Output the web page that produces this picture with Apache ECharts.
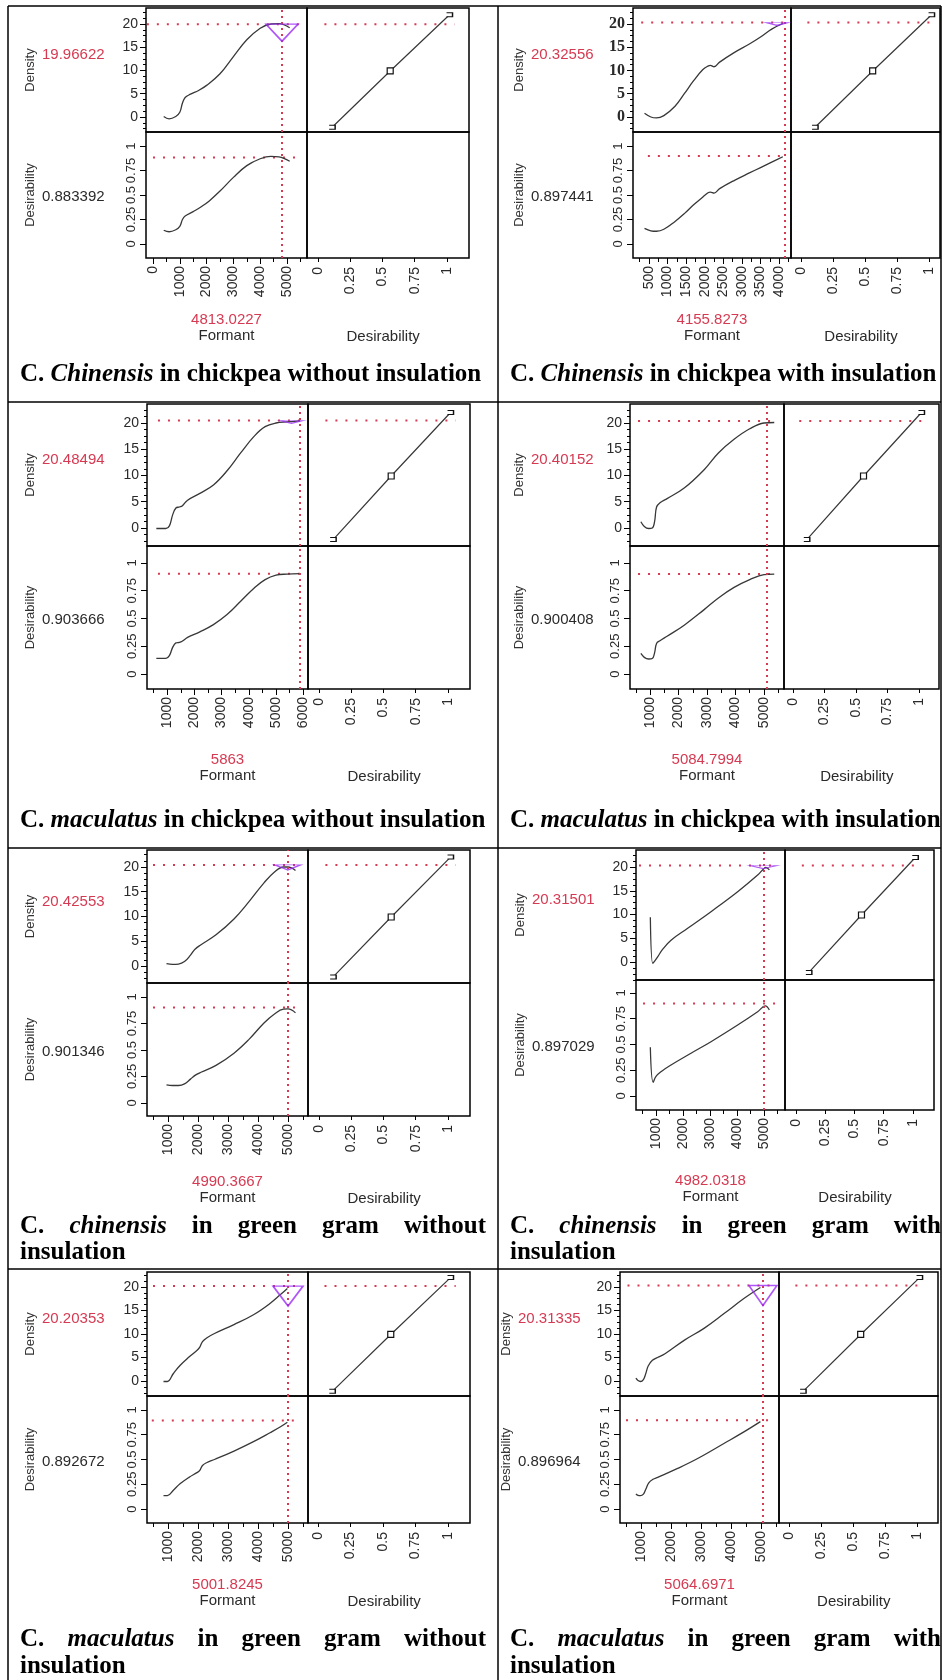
<!DOCTYPE html>
<html>
<head>
<meta charset="utf-8">
<script src="https://cdn.jsdelivr.net/npm/echarts@6.0.0/dist/echarts.min.js"></script>
<style>
  html, body { margin: 0; padding: 0; background: #fff; }
  #main { width: 942px; height: 1680px; }
</style>
</head>
<body>
<div id="main"></div>
<script>
// 数据：每个面板的最优点
var optFormant = [4813.0227, 4155.8273, 5863, 5084.7994, 4990.3667, 4982.0318, 5001.8245, 5064.6971];
var optDensity = [19.96622, 20.32556, 20.48494, 20.40152, 20.42553, 20.31501, 20.20353, 20.31335];
var optDesir = [0.883392, 0.897441, 0.903666, 0.900408, 0.901346, 0.897029, 0.892672, 0.896964];

// 刻度
var densityTicks = [0, 5, 10, 15, 20];
var desirTicks = [0, 0.25, 0.5, 0.75, 1];
var formantTicks1 = [0, 1000, 2000, 3000, 4000, 5000];
var formantTicks2 = [500, 1000, 1500, 2000, 2500, 3000, 3500, 4000];
var formantTicks3 = [1000, 2000, 3000, 4000, 5000, 6000];
var formantTicks = [1000, 2000, 3000, 4000, 5000];

// 合意函数 (desirability, density)
var desirFn = [[0.11, -2.2], [0.56, 9.9], [1.02, 22]];

// Density vs Formant
var density1 = [[400,0.1],[600,-0.4],[850,0.1],[1000,1.0],[1100,3.0],[1200,4.2],[1400,4.9],[1700,5.7],[2000,6.8],[2500,9.3],[3000,13.0],[3500,16.6],[4000,19.1],[4400,20.0],[4700,20.1],[5100,19.2]];
var density2 = [[380,0.8],[550,0.0],[700,-0.2],[900,0.3],[1200,2.3],[1450,5.0],[1700,7.8],[1950,10.2],[2100,11.0],[2150,11.1],[2250,10.8],[2400,11.8],[2800,13.9],[3200,15.7],[3500,17.2],[3800,18.9],[4100,20.1]];
var density3 = [[600,-0.1],[950,-0.1],[1080,0.4],[1200,2.5],[1320,3.8],[1450,4.0],[1550,4.2],[1750,5.3],[2200,6.6],[2700,8.2],[3200,10.9],[3700,14.3],[4200,17.5],[4600,19.3],[5000,20.0],[5400,20.2],[5880,20.4]];
var density4 = [[680,1.2],[800,0.3],[950,-0.1],[1080,0.0],[1160,1.2],[1230,4.0],[1350,4.8],[1600,5.6],[2200,7.6],[2900,11.1],[3400,14.3],[3950,16.9],[4500,18.9],[5000,20.0],[5360,20.1]];
var density5 = [[950,0.5],[1150,0.35],[1350,0.4],[1550,0.9],[1750,2.2],[1900,3.4],[2100,4.3],[2600,6.3],[3200,9.5],[3700,13.0],[4200,16.8],[4550,19.0],[4850,20.0],[5000,20.0],[5250,19.3]];
var density6 = [[790,9.4],[877,-0.3],[950,0.2],[1062,1.1],[1250,2.7],[1556,4.6],[2173,7.1],[3037,10.6],[4025,14.8],[4765,18.3],[5000,19.7],[5074,19.9],[5198,19.4]];
var density7 = [[850,-0.1],[980,-0.1],[1180,1.6],[1400,3.3],[1700,5.1],[1980,6.6],[2060,7.2],[2150,8.4],[2300,9.2],[2550,10.1],[3200,12.0],[3850,14.1],[4400,16.5],[4750,18.4],[4980,19.7]];
var density8 = [[830,0.6],[900,0.1],[980,-0.1],[1080,0.3],[1160,1.6],[1240,3.2],[1380,4.4],[1550,5.0],[1800,5.8],[2450,8.7],[3100,11.2],[3780,14.4],[4440,17.6],[4980,19.9]];

// Desirability vs Formant
var desir1 = [[400,0.14],[600,0.125],[850,0.145],[1000,0.18],[1100,0.25],[1200,0.285],[1500,0.33],[1800,0.38],[2100,0.44],[2500,0.54],[3000,0.68],[3500,0.80],[4000,0.87],[4400,0.895],[4700,0.89],[5100,0.845]];
var desir2 = [[380,0.16],[550,0.135],[700,0.13],[900,0.15],[1200,0.23],[1450,0.31],[1700,0.40],[1950,0.48],[2100,0.525],[2150,0.53],[2250,0.52],[2400,0.565],[2800,0.65],[3200,0.725],[3500,0.78],[3800,0.835],[4100,0.89]];
var desir3 = [[600,0.14],[950,0.14],[1080,0.165],[1200,0.24],[1320,0.28],[1450,0.285],[1550,0.295],[1750,0.33],[2200,0.38],[2700,0.445],[3200,0.535],[3700,0.655],[4200,0.775],[4600,0.85],[5000,0.89],[5400,0.9],[5880,0.904]];
var desir4 = [[680,0.185],[800,0.15],[950,0.135],[1080,0.14],[1160,0.19],[1230,0.275],[1350,0.3],[1600,0.34],[2200,0.44],[2900,0.58],[3400,0.685],[3950,0.78],[4500,0.85],[5000,0.895],[5360,0.9]];
var desir5 = [[950,0.17],[1150,0.165],[1350,0.165],[1550,0.18],[1750,0.225],[1900,0.26],[2100,0.29],[2600,0.355],[3200,0.47],[3700,0.6],[4200,0.755],[4550,0.84],[4850,0.885],[5000,0.887],[5250,0.85]];
var desir6 = [[790,0.473],[895,0.133],[1000,0.19],[1185,0.236],[1556,0.301],[2296,0.415],[3037,0.527],[4025,0.689],[4765,0.818],[5049,0.874],[5198,0.835]];
var desir7 = [[850,0.135],[980,0.135],[1180,0.19],[1400,0.255],[1700,0.32],[1980,0.37],[2060,0.39],[2150,0.44],[2300,0.47],[2550,0.5],[3200,0.585],[3850,0.68],[4400,0.77],[4750,0.83],[4980,0.876]];
var desir8 = [[830,0.152],[900,0.138],[980,0.135],[1080,0.15],[1160,0.2],[1260,0.265],[1400,0.3],[1556,0.32],[2222,0.41],[2889,0.51],[3778,0.664],[4444,0.781],[4980,0.882]];

// 标题
var captionSpecies = ['Chinensis', 'Chinensis', 'maculatus', 'maculatus', 'chinensis', 'chinensis', 'maculatus', 'maculatus'];
var captionRest = ['in chickpea without insulation', 'in chickpea with insulation',
  'in chickpea without insulation', 'in chickpea with insulation',
  'in green gram without insulation', 'in green gram with insulation',
  'in green gram without insulation', 'in green gram with insulation'];

var densityCurves = [density1, density2, density3, density4, density5, density6, density7, density8];
var desirCurves = [desir1, desir2, desir3, desir4, desir5, desir6, desir7, desir8];
var formantTickSets = [formantTicks1, formantTicks2, formantTicks3, formantTicks, formantTicks, formantTicks, formantTicks, formantTicks];

// 版面（像素位置和轴范围）
var layout = [
  {xs:[146,307,469], ys:[8,132,258], den:[-3.23,23.44], des:[-0.143,1.143], fx:[-261,5746], dx:[-0.085,1.171], step:500, lab:30, fv:320, h:[-230,5450], h2:[0,5370], tri:[32,17], triDx:0, cap:[375]},
  {xs:[633,791,940], ys:[8,132,258], den:[-3.23,23.44], des:[-0.143,1.143], fx:[70,4319], dx:[-0.078,1.086], step:250, lab:519, fv:320, h:[290,4160], h2:[470,4110], tri:[22,3], triDx:-8, serif:true, cap:[375]},
  {xs:[147,308,470], ys:[404,546,689], den:[-3.43,23.62], des:[-0.135,1.153], fx:[257,6176], dx:[-0.085,1.171], step:500, lab:30, fv:760, h:[660,5880], h2:[660,5880], tri:[23,3], triDx:-8, cap:[821]},
  {xs:[630,784,939], ys:[404,546,689], den:[-3.43,23.62], des:[-0.135,1.153], fx:[298,5702], dx:[-0.071,1.159], step:500, lab:519, fv:760, h:[580,5350], h2:[580,5350], tri:null, cap:[821]},
  {xs:[147,308,470], ys:[850,983,1116], den:[-3.43,23.43], des:[-0.123,1.132], fx:[300,5667], dx:[-0.085,1.171], step:500, lab:30, fv:1182, h:[500,5400], h2:[500,5330], tri:[26,5], triDx:0, cap:[1227,1253]},
  {xs:[636,785,934], ys:[850,980,1110], den:[-3.79,23.58], des:[-0.136,1.126], fx:[259,5778], dx:[-0.094,1.18], step:500, lab:520, fv:1181, h:[370,5480], h2:[520,5550], tri:[27,3], triDx:0, cap:[1227,1253]},
  {xs:[147,308,470], ys:[1272,1396,1523], den:[-3.19,23.19], des:[-0.141,1.141], fx:[300,5667], dx:[-0.077,1.17], step:500, lab:30, fv:1585, h:[500,5330], h2:[460,5330], tri:[30,20], triDx:0, cap:[1640,1667]},
  {xs:[620,779,938], ys:[1272,1396,1523], den:[-3.19,23.19], des:[-0.141,1.141], fx:[300,5600], dx:[-0.078,1.164], step:500, lab:506, fv:1585, h:[550,5400], h2:[500,5270], tri:[28,20], triDx:0, cap:[1640,1667]}
];

var SANS = '"Liberation Sans", Arial, sans-serif';
var SERIF = '"Liberation Serif", "Times New Roman", serif';
var RED = '#d63a52';
var PURPLE = '#9a2cf5';
var INK = '#2a2a2a';
var CURVE = '#383838';

function range(a, b, step) {
  var out = [];
  for (var k = Math.ceil(a / step); k * step <= b; k++) out.push(+(k * step).toFixed(4));
  return out;
}
function plain(v) { return String(v); }

function hiddenAxis(gi, r) {
  return { type: 'value', gridIndex: gi, min: r[0], max: r[1], show: false, axisLine: { onZero: false } };
}

var grids = [], xAxes = [], yAxes = [], series = [], graphics = [];
var noLine = { show: false, onZero: false };

layout.forEach(function (L, p) {
  var g = grids.length;
  var xs = L.xs, ys = L.ys;
  function box(a, b, c, d) {
    return { left: xs[a], top: ys[b], width: xs[c] - xs[a], height: ys[d] - ys[b],
      show: true, borderColor: '#000', borderWidth: 1.5, backgroundColor: 'transparent', outerBoundsMode: 'none' };
  }
  grids.push(box(0, 0, 1, 1), box(1, 0, 2, 1), box(0, 1, 1, 2), box(1, 1, 2, 2));

  var xi = xAxes.length, yi = yAxes.length;
  var tickLine = { color: '#000', width: 1 };
  var fTicks = formantTickSets[p];

  xAxes.push(
    hiddenAxis(g, L.fx),
    hiddenAxis(g + 1, L.dx),
    { type: 'value', gridIndex: g + 2, min: L.fx[0], max: L.fx[1], position: 'bottom',
      axisLine: noLine, splitLine: { show: false },
      axisTick: { show: true, length: 6, lineStyle: tickLine, customValues: fTicks },
      axisLabel: { customValues: fTicks, formatter: plain, rotate: 90, margin: 8, fontSize: 14, fontFamily: SANS, color: INK } },
    { type: 'value', gridIndex: g + 2, min: L.fx[0], max: L.fx[1], position: 'bottom',
      axisLine: noLine, splitLine: { show: false },
      axisTick: { show: true, length: 4, lineStyle: tickLine, customValues: range(L.fx[0], L.fx[1], L.step) },
      axisLabel: { show: false } },
    { type: 'value', gridIndex: g + 3, min: L.dx[0], max: L.dx[1], position: 'bottom',
      axisLine: noLine, splitLine: { show: false },
      axisTick: { show: true, length: 4, lineStyle: tickLine, customValues: desirTicks },
      axisLabel: { customValues: desirTicks, formatter: plain, rotate: 90, margin: 9, fontSize: 14, fontFamily: SANS, color: INK } }
  );

  yAxes.push(
    { type: 'value', gridIndex: g, min: L.den[0], max: L.den[1], position: 'left',
      axisLine: noLine, splitLine: { show: false },
      axisTick: { show: true, length: 6, lineStyle: tickLine, customValues: densityTicks },
      axisLabel: { customValues: densityTicks, formatter: plain, margin: 8, fontSize: L.serif ? 16 : 14,
        fontFamily: L.serif ? SERIF : SANS, fontWeight: L.serif ? 'bold' : 'normal', color: INK } },
    { type: 'value', gridIndex: g, min: L.den[0], max: L.den[1], position: 'left',
      axisLine: noLine, splitLine: { show: false },
      axisTick: { show: true, length: 3, lineStyle: tickLine, customValues: range(L.den[0], L.den[1], 1.25) },
      axisLabel: { show: false } },
    hiddenAxis(g + 1, L.den),
    { type: 'value', gridIndex: g + 2, min: L.des[0], max: L.des[1], position: 'left',
      axisLine: noLine, splitLine: { show: false },
      axisTick: { show: true, length: 6, lineStyle: tickLine, customValues: desirTicks },
      axisLabel: { customValues: desirTicks, formatter: plain, rotate: 90, margin: 8, fontSize: 13, fontFamily: SANS, color: INK } },
    hiddenAxis(g + 3, [0, 1])
  );

  var dotted = { color: RED, width: 2, type: [2, 8], cap: 'butt' };
  var vLine = {
    silent: true, symbol: 'none', label: { show: false },
    lineStyle: { color: RED, width: 2, type: [2, 4], cap: 'butt' },
    data: [{ xAxis: optFormant[p] }]
  };

  // Density vs Formant
  series.push({
    type: 'line', xAxisIndex: xi, yAxisIndex: yi, data: densityCurves[p],
    smooth: 0.4, showSymbol: false, silent: true,
    lineStyle: { color: CURVE, width: 1.3 }, markLine: vLine, z: 3
  });
  series.push({
    type: 'line', xAxisIndex: xi, yAxisIndex: yi, showSymbol: false, silent: true,
    data: [[L.h[0], optDensity[p]], [L.h[1], optDensity[p]]], lineStyle: dotted, z: 2
  });
  if (L.tri) {
    series.push({
      type: 'scatter', xAxisIndex: xi, yAxisIndex: yi, silent: true, z: 5,
      data: [[optFormant[p], optDensity[p]]],
      symbol: 'triangle', symbolRotate: 180, symbolSize: L.tri, symbolKeepAspect: false,
      symbolOffset: [L.triDx, L.tri[1] / 2],
      itemStyle: { color: 'rgba(0,0,0,0)', borderColor: PURPLE, borderWidth: 1.6 }
    });
  }

  // Density vs Desirability（合意函数）
  series.push({
    type: 'line', xAxisIndex: xi + 1, yAxisIndex: yi + 2, silent: true, z: 3,
    data: desirFn.map(function (d, k) {
      return k === 1
        ? { value: d, symbol: 'rect', symbolSize: 6 }
        : { value: d, symbol: 'path://M0,0L8,0L8,5L0,5', symbolSize: [6, 4] };
    }),
    showSymbol: true, lineStyle: { color: CURVE, width: 1.2 },
    itemStyle: { color: '#fff', borderColor: '#111', borderWidth: 1.2 }
  });
  series.push({
    type: 'line', xAxisIndex: xi + 1, yAxisIndex: yi + 2, showSymbol: false, silent: true,
    data: [[0.05, optDensity[p]], [1.06, optDensity[p]]], lineStyle: dotted, z: 2
  });

  // Desirability vs Formant
  series.push({
    type: 'line', xAxisIndex: xi + 2, yAxisIndex: yi + 3, data: desirCurves[p],
    smooth: 0.4, showSymbol: false, silent: true,
    lineStyle: { color: CURVE, width: 1.3 }, markLine: vLine, z: 3
  });
  series.push({
    type: 'line', xAxisIndex: xi + 2, yAxisIndex: yi + 3, showSymbol: false, silent: true,
    data: [[L.h2[0], optDesir[p]], [L.h2[1], optDesir[p]]], lineStyle: dotted, z: 2
  });

  // 文字标注
  var midTop = (ys[0] + ys[1]) / 2, midBot = (ys[1] + ys[2]) / 2;
  function txt(x, y, s, opt) {
    var st = { text: s, fontFamily: SANS, fontSize: 15, fill: INK, align: 'left', verticalAlign: 'middle' };
    for (var k in opt) st[k] = opt[k];
    return { type: 'text', x: x, y: y, silent: true, rotation: st.rot || 0, style: st };
  }
  var rotLab = { fontSize: 13, align: 'center', rot: Math.PI / 2, fill: '#333' };
  graphics.push(txt(L.lab, midTop, 'Density', rotLab));
  graphics.push(txt(L.lab, midBot, 'Desirability', rotLab));
  graphics.push(txt(L.lab + 12, midTop - 15, String(optDensity[p]), { fill: RED }));
  graphics.push(txt(L.lab + 12, midBot + 2, String(optDesir[p]), {}));
  var fcx = (xs[0] + xs[1]) / 2, dcx = xs[1] + (xs[2] - xs[1]) * 0.47;
  graphics.push(txt(fcx, L.fv, String(optFormant[p]), { fill: RED, align: 'center' }));
  graphics.push(txt(fcx, L.fv + 16, 'Formant', { align: 'center' }));
  graphics.push(txt(dcx, L.fv + 17, 'Desirability', { align: 'center' }));
});

// 标题（两端对齐）
var measureCtx = document.createElement('canvas').getContext('2d');
function wordWidth(w, italic) {
  measureCtx.font = (italic ? 'italic ' : '') + 'bold 25px "Liberation Serif"';
  return measureCtx.measureText(w).width;
}
function captionLine(words, x0, x1, y, justify) {
  var widths = words.map(function (w) { return wordWidth(w.t, w.i); });
  var total = widths.reduce(function (a, b) { return a + b; }, 0);
  var gap = justify && words.length > 1 ? (x1 - x0 - total) / (words.length - 1) : wordWidth(' ', false);
  var x = x0;
  words.forEach(function (w, k) {
    graphics.push({ type: 'text', x: x, y: y, silent: true,
      style: { text: w.t, fontFamily: SERIF, fontSize: 25, fontWeight: 'bold',
        fontStyle: w.i ? 'italic' : 'normal', fill: '#000', align: 'left', verticalAlign: 'middle' } });
    x += widths[k] + gap;
  });
}
layout.forEach(function (L, p) {
  var x0 = p % 2 === 0 ? 20 : 510, x1 = p % 2 === 0 ? 486 : 941;
  var words = [{ t: 'C.', i: false }, { t: captionSpecies[p], i: true }].concat(
    captionRest[p].split(' ').map(function (t) { return { t: t, i: false }; }));
  if (L.cap.length === 1) {
    captionLine(words, x0, x1, L.cap[0], false);
  } else {
    captionLine(words.slice(0, -1), x0, x1, L.cap[0], true);
    captionLine(words.slice(-1), x0, x1, L.cap[1], false);
  }
});

// 表格线
var frame = { stroke: '#000', lineWidth: 1.5 };
function seg(x1, y1, x2, y2) {
  return { type: 'line', silent: true, shape: { x1: x1, y1: y1, x2: x2, y2: y2 }, style: frame, z: 10 };
}
graphics.push(seg(8, 6, 941, 6), seg(8, 6, 8, 1680), seg(941, 6, 941, 1680), seg(498, 6, 498, 1680),
  seg(8, 402, 941, 402), seg(8, 848, 941, 848), seg(8, 1269, 941, 1269));

var myChart = echarts.init(document.getElementById('main'));
var option = {
  animation: false,
  backgroundColor: '#fff',
  grid: grids,
  xAxis: xAxes,
  yAxis: yAxes,
  series: series,
  graphic: graphics
};
myChart.setOption(option);
</script>
</body>
</html>
